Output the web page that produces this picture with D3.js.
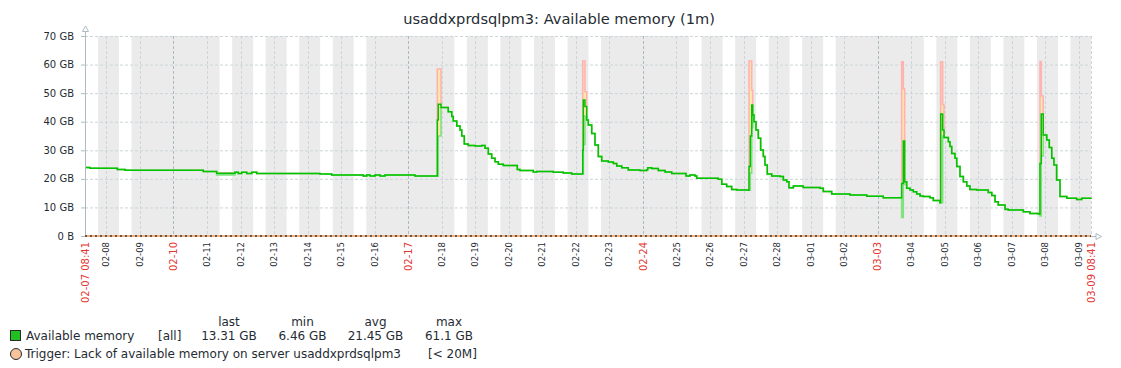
<!DOCTYPE html>
<html>
<head>
<meta charset="utf-8">
<script src="https://cdn.jsdelivr.net/npm/d3@7"></script>
<style>
  body { margin: 0; background: #fff; }
  svg { display: block; font-family: "DejaVu Sans", sans-serif; }
</style>
</head>
<body>
<svg id="chart" width="1121" height="368"></svg>
<script>
const times = [
  "02-07 08:41","02-07 12:15","02-08 07:50","02-08 13:20","02-10 21:20","02-11 06:55","02-11 20:00","02-11 22:25",
  "02-12 00:50","02-12 04:25","02-12 08:00","02-12 11:35","02-14 08:50","02-14 17:15","02-15 15:50","02-15 18:20",
  "02-15 20:40","02-16 00:15","02-16 03:50","02-16 07:25","02-17 04:50","02-17 20:50","02-17 21:30","02-17 23:30",
  "02-18 04:40","02-18 07:10","02-18 08:15","02-18 10:45","02-18 13:05","02-18 14:20","02-18 16:10","02-18 19:00",
  "02-18 23:50","02-19 04:35","02-19 07:00","02-19 09:20","02-19 11:45","02-19 14:10","02-19 16:30","02-19 20:05",
  "02-20 06:05","02-20 08:00","02-20 17:30","02-20 20:00","02-21 07:50","02-21 15:00","02-21 21:00","02-22 04:55",
  "02-22 05:20","02-22 06:30","02-22 07:45","02-22 08:55","02-22 11:20","02-22 13:40","02-22 16:05","02-22 18:30",
  "02-22 23:15","02-23 02:50","02-23 05:15","02-23 08:50","02-23 13:30","02-23 21:55","02-24 02:40","02-24 03:25",
  "02-24 06:15","02-24 11:00","02-24 15:50","02-24 20:35","02-25 06:50","02-25 09:40","02-25 13:15","02-25 14:30",
  "02-26 05:55","02-26 08:25","02-26 11:55","02-26 15:30","02-26 19:05","02-27 03:25","02-27 03:55","02-27 04:50",
  "02-27 05:50","02-27 06:35","02-27 07:30","02-27 08:55","02-27 10:35","02-27 12:15","02-27 14:10","02-27 15:20",
  "02-27 17:00","02-27 20:10","02-28 02:05","02-28 04:30","02-28 06:55","02-28 08:30","02-28 11:40","02-28 18:45",
  "03-01 06:45","03-01 09:05","03-01 15:05","03-02 04:10","03-02 16:10","03-03 04:00","03-03 17:10","03-03 18:20",
  "03-03 19:20","03-03 20:45","03-03 23:10","03-04 01:30","03-04 03:55","03-04 06:20","03-04 08:40","03-04 13:25",
  "03-04 15:50","03-04 20:35","03-04 21:05","03-04 22:30","03-04 23:30","03-05 02:35","03-05 03:45","03-05 05:00",
  "03-05 07:20","03-05 08:35","03-05 10:55","03-05 13:20","03-05 15:45","03-05 18:05","03-05 22:50","03-06 07:10",
  "03-06 09:40","03-06 12:00","03-06 14:20","03-06 19:10","03-06 21:30","03-07 08:15","03-07 13:00","03-07 19:00",
  "03-07 20:10","03-07 21:05","03-07 22:30","03-08 01:00","03-08 02:50","03-08 04:35","03-08 06:10","03-08 08:05",
  "03-08 10:30","03-08 15:20","03-08 22:25","03-09 02:00","03-09 08:41"
];
const avgGB = [
  24.0, 23.7, 23.3, 23.0, 22.6, 22.0, 22.3, 21.9,
  22.3, 21.9, 22.3, 21.9, 21.7, 21.35, 21.0, 21.35,
  21.0, 21.35, 21.0, 21.35, 21.0, 40.6, 46.1, 45.0,
  43.5, 41.8, 40.25, 38.5, 37.1, 35.0, 32.2, 31.7,
  31.5, 31.7, 30.7, 28.7, 27.2, 26.0, 25.1, 24.7,
  23.3, 22.9, 22.4, 22.6, 22.3, 22.05, 21.7, 30.0,
  47.6, 45.3, 40.6, 38.85, 35.9, 31.85, 27.8, 26.25,
  25.9, 25.4, 24.5, 23.9, 23.1, 22.9, 23.2, 23.9,
  23.6, 22.9, 22.4, 21.9, 21.0, 21.35, 21.0, 20.2,
  19.85, 18.1, 17.3, 16.3, 16.1, 16.0, 24.3, 35.0,
  45.85, 42.35, 40.0, 37.1, 34.2, 30.1, 27.8, 24.85,
  21.7, 21.0, 20.8, 19.6, 19.0, 16.9, 17.5, 17.0,
  16.7, 15.6, 14.7, 14.35, 13.9, 13.4, 18.4, 33.25,
  19.0, 16.7, 16.1, 15.5, 14.7, 14.0, 13.8, 13.4,
  12.4, 11.65, 42.7, 37.1, 34.5, 33.0, 31.3, 28.9,
  27.2, 24.3, 20.8, 19.0, 17.5, 16.3, 16.1, 15.2,
  14.2, 12.0, 10.85, 9.33, 9.1, 8.5, 7.9, 7.7,
  25.4, 42.7, 35.35, 33.6, 31.0, 27.2, 24.85, 19.6,
  13.8, 13.2, 12.8, 13.2, 13.31
];
// min / max differ from avg only around the restarts
const spikeTimes = ["02-11 06:55","02-17 20:50","02-17 21:30","02-22 04:55","02-22 05:20","02-22 06:30",
  "02-27 03:55","02-27 04:50","02-27 05:50","03-03 17:10","03-03 18:20","03-04 21:05","03-04 22:30",
  "03-07 20:10","03-07 21:05"];
const spikeMax = [22.0, 58.45, 58.45, 61.25, 61.25, 50.5, 61.25, 61.25, 51.1, 61.0, 51.5, 61.0, 46.0, 61.1, 49.0];
const spikeMin = [21.4, 21.0, 35.0, 21.7, 32.0, 42.0, 16.0, 22.0, 38.0, 6.46, 18.0, 11.65, 35.0, 7.0, 28.0];

const startLabel = "02-07 08:41";
const endLabel = "03-09 08:41";
const offDays = ["02-09","02-10","02-16","02-17","02-23","02-24","03-02","03-03"];
const weekStarts = ["02-10","02-17","02-24","03-03"];
const workHours = [9, 18];
const yTicks = [0, 10, 20, 30, 40, 50, 60, 70];
const triggerGB = 0.02;

const title = "usaddxprdsqlpm3: Available memory (1m)";
const itemName = "Available memory";
const itemFunc = "[all]";
const legendHeads = ["last", "min", "avg", "max"];
const legendValues = ["13.31 GB", "6.46 GB", "21.45 GB", "61.1 GB"];
const triggerName = "Trigger: Lack of available memory on server usaddxprdsqlpm3";
const triggerCond = "[< 20M]";

const textColor = "#1f2c33", red = "#e33734";
const gridColor = "#ccd5d9", mainGrid = "#acbbc2";

const parse = s => d3.utcParse("%Y-%m-%d %H:%M")("2025-" + s);
const mmdd = d3.utcFormat("%m-%d");

const svg = d3.select("#chart");
const L = 85, R = 1091, T = 36, B = 236;

const t0 = parse(startLabel), t1 = parse(endLabel);
const x = d3.scaleUtc().domain([t0, t1]).range([L, R]);
const y = d3.scaleLinear().domain([0, 70]).range([B, T]);

const spikes = new Map(spikeTimes.map((s, i) => [s, i]));
const data = times.map((s, i) => {
  const k = spikes.get(s);
  return {
    t: parse(s),
    avg: avgGB[i],
    min: k === undefined ? avgGB[i] : spikeMin[k],
    max: k === undefined ? avgGB[i] : spikeMax[k]
  };
});

// title
svg.append("text")
  .attr("x", 559).attr("y", 23.5)
  .attr("text-anchor", "middle")
  .attr("font-size", 14.6)
  .attr("fill", textColor)
  .text(title);

// non-working time (grey) with white working hours
svg.append("rect")
  .attr("x", L).attr("y", T).attr("width", R - L).attr("height", B - T)
  .attr("fill", "#ebebeb");

d3.utcDay.range(d3.utcDay.floor(t0), t1).forEach(day => {
  if (offDays.includes(mmdd(day))) return;
  const a = Math.max(d3.utcHour.offset(day, workHours[0]), t0);
  const b = Math.min(d3.utcHour.offset(day, workHours[1]), t1);
  if (b <= a) return;
  svg.append("rect")
    .attr("x", x(a)).attr("y", T)
    .attr("width", x(b) - x(a)).attr("height", B - T)
    .attr("fill", "#fff");
});

// grid
svg.append("g").selectAll("line")
  .data(yTicks.filter(v => v > 0))
  .join("line")
    .attr("x1", L).attr("x2", R)
    .attr("y1", d => y(d) + 0.5).attr("y2", d => y(d) + 0.5)
    .attr("stroke", gridColor)
    .attr("stroke-dasharray", "3,2");

const days = d3.utcDay.range(d3.utcDay.ceil(t0), t1);
svg.append("g").selectAll("line")
  .data(days)
  .join("line")
    .attr("x1", d => Math.round(x(d)) + 0.5).attr("x2", d => Math.round(x(d)) + 0.5)
    .attr("y1", T).attr("y2", B)
    .attr("stroke", d => weekStarts.includes(mmdd(d)) ? mainGrid : gridColor)
    .attr("stroke-dasharray", "3,2");

svg.append("line")
  .attr("x1", R + 0.5).attr("x2", R + 0.5).attr("y1", T).attr("y2", B)
  .attr("stroke", gridColor).attr("stroke-dasharray", "3,2");

// series: min..max band, max, min, avg
const plot = svg.append("g");
plot.append("path")
  .datum(data)
  .attr("fill", "#ffeaa8")
  .attr("d", d3.area().curve(d3.curveStepAfter)
    .x(d => x(d.t)).y0(d => y(d.min)).y1(d => y(d.max)));

const line = key => d3.line().curve(d3.curveStepAfter).x(d => x(d.t)).y(d => y(d[key]));
plot.append("path").datum(data)
  .attr("fill", "none").attr("stroke", "#ffb3b0").attr("stroke-width", 1.6)
  .attr("d", line("max"));
plot.append("path").datum(data)
  .attr("fill", "none").attr("stroke", "#7ee27e").attr("stroke-width", 1.6)
  .attr("d", line("min"));
plot.append("path").datum(data)
  .attr("fill", "none").attr("stroke", "#00c400").attr("stroke-width", 1.5)
  .attr("d", line("avg"));

// axes
svg.append("line")
  .attr("x1", L + 0.5).attr("x2", L + 0.5).attr("y1", 31).attr("y2", B + 1)
  .attr("stroke", mainGrid);
svg.append("path")
  .attr("d", `M${L - 2.5},31.5 L${L + 3.5},31.5 L${L + 0.5},26 Z`)
  .attr("fill", "#fff").attr("stroke", mainGrid);
svg.append("line")
  .attr("x1", L).attr("x2", R + 5).attr("y1", B + 0.5).attr("y2", B + 0.5)
  .attr("stroke", mainGrid);
svg.append("path")
  .attr("d", `M${R + 5},${B - 2.5} L${R + 5},${B + 3.5} L${R + 10.5},${B + 0.5} Z`)
  .attr("fill", "#fff").attr("stroke", mainGrid);

// trigger line
svg.append("line")
  .attr("x1", L).attr("x2", R).attr("y1", y(triggerGB)).attr("y2", y(triggerGB))
  .attr("stroke", "#f3b07c").attr("stroke-width", 2);
svg.append("line")
  .attr("x1", L).attr("x2", R).attr("y1", y(triggerGB)).attr("y2", y(triggerGB))
  .attr("stroke", "#3a3a3a").attr("stroke-width", 1.5)
  .attr("stroke-dasharray", "2,3");

// y labels
const yAxis = svg.append("g");
yAxis.selectAll("line")
  .data(yTicks)
  .join("line")
    .attr("x1", L - 4).attr("x2", L)
    .attr("y1", d => y(d) + 0.5).attr("y2", d => y(d) + 0.5)
    .attr("stroke", mainGrid);
yAxis.selectAll("text")
  .data(yTicks)
  .join("text")
    .attr("x", 74).attr("y", d => y(d))
    .attr("dy", "0.36em")
    .attr("text-anchor", "end")
    .attr("font-size", 10)
    .attr("fill", textColor)
    .text(d => d === 0 ? "0 B" : d + " GB");

// x labels
const xLabels = days.map(d => ({ t: d, text: mmdd(d), red: weekStarts.includes(mmdd(d)) }))
  .concat([{ t: t0, text: startLabel, red: true }, { t: t1, text: endLabel, red: true }]);

svg.append("g").selectAll("text")
  .data(xLabels)
  .join("text")
    .attr("transform", d => `translate(${x(d.t)},${B + 6}) rotate(-90)`)
    .attr("dy", "0.36em")
    .attr("text-anchor", "end")
    .attr("font-size", d => d.red ? 10 : 8.5)
    .attr("fill", d => d.red ? red : textColor)
    .text(d => d.text);

// legend
const lg = svg.append("g").attr("font-size", 12).attr("fill", textColor);
const colX = [229, 302.5, 375.5, 449];
lg.selectAll("text.head")
  .data(legendHeads)
  .join("text")
    .attr("class", "head")
    .attr("x", (d, i) => colX[i]).attr("y", 322).attr("dy", "0.36em")
    .attr("text-anchor", "middle")
    .text(d => d);
lg.selectAll("text.val")
  .data(legendValues)
  .join("text")
    .attr("class", "val")
    .attr("x", (d, i) => colX[i]).attr("y", 335.5).attr("dy", "0.36em")
    .attr("text-anchor", "middle")
    .text(d => d);

lg.append("rect")
  .attr("x", 10.5).attr("y", 330.5).attr("width", 10).attr("height", 10)
  .attr("fill", "#1fc01f").attr("stroke", "#2a2a2a");
lg.append("text").attr("x", 26).attr("y", 335.5).attr("dy", "0.36em").text(itemName);
lg.append("text").attr("x", 158).attr("y", 335.5).attr("dy", "0.36em").text(itemFunc);

lg.append("circle")
  .attr("cx", 16).attr("cy", 354).attr("r", 5.5)
  .attr("fill", "#f7c39d").attr("stroke", "#2a2a2a");
lg.append("text").attr("x", 25).attr("y", 354).attr("dy", "0.36em").text(triggerName);
lg.append("text").attr("x", 428).attr("y", 354).attr("dy", "0.36em").text(triggerCond);
</script>
</body>
</html>
